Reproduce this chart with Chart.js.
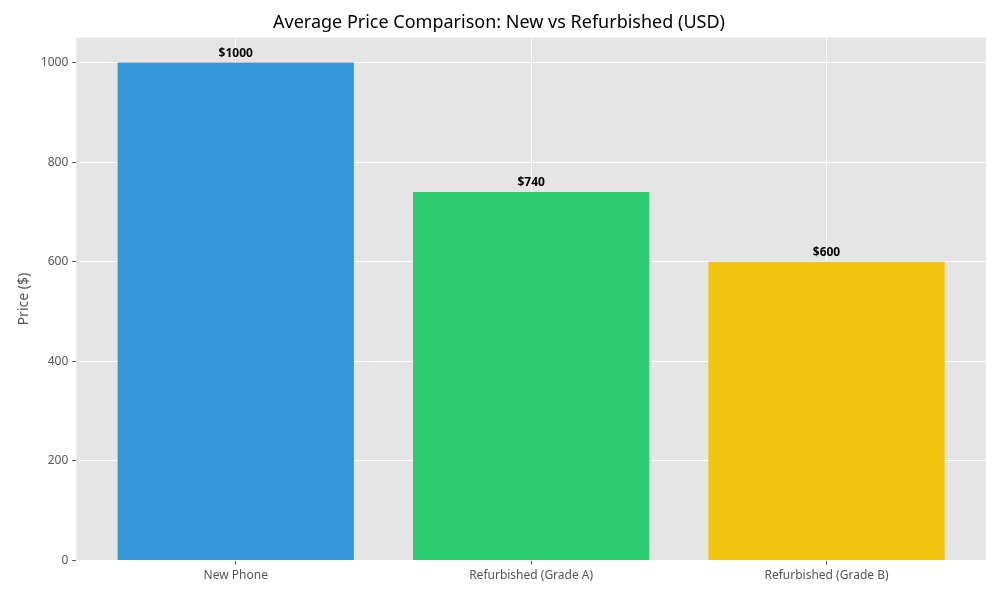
<!DOCTYPE html>
<html>
<head>
<meta charset="utf-8">
<script src="https://cdn.jsdelivr.net/npm/chart.js@4/dist/chart.umd.min.js"></script>
<style>
body { margin: 0; background: #fff; }
#wrap { width: 1000px; height: 600px; }
</style>
</head>
<body>
<div id="wrap"><canvas id="c"></canvas></div>
<script>
const categories = ["New Phone", "Refurbished (Grade A)", "Refurbished (Grade B)"];
const prices = [1000, 740, 600];
const barColors = ["#3498db", "#2ecc71", "#f1c40f"];
const yTicks = [0, 200, 400, 600, 800, 1000];

const plotBg = {
	id: "plotBg",
	beforeDraw(chart) {
		const { ctx, chartArea: a } = chart;
		ctx.save();
		ctx.fillStyle = "#e5e5e5";
		ctx.fillRect(a.left, a.top, a.right - a.left, a.bottom - a.top);
		ctx.restore();
	},
};

const valueLabels = {
	id: "valueLabels",
	afterDatasetsDraw(chart) {
		const { ctx } = chart;
		ctx.save();
		ctx.font = "bold 12px 'Noto Sans'";
		ctx.fillStyle = "#000";
		ctx.textAlign = "center";
		ctx.textBaseline = "bottom";
		chart.getDatasetMeta(0).data.forEach((bar, i) => {
			ctx.fillText("$" + prices[i], bar.x, bar.y - 3);
		});
		ctx.restore();
	},
};

Chart.defaults.font.family = "'Noto Sans'";

new Chart(document.getElementById("c"), {
	type: "bar",
	data: {
		datasets: [{
			data: prices.map((p, i) => ({ x: i, y: p })),
			backgroundColor: barColors,
			barPercentage: 0.8,
			categoryPercentage: 1,
		}],
	},
	options: {
		responsive: true,
		maintainAspectRatio: false,
		animation: false,
		layout: { padding: { left: 12, right: 14, top: 0, bottom: 13 } },
		plugins: {
			legend: { display: false },
			tooltip: { enabled: false },
			title: {
				display: true,
				text: "Average Price Comparison: New vs Refurbished (USD)",
				color: "#000",
				font: { size: 18, weight: "normal" },
				padding: { top: 12, bottom: 4 },
			},
		},
		scales: {
			x: {
				type: "linear",
				min: -0.54,
				max: 2.54,
				offset: false,
				afterBuildTicks(axis) { axis.ticks = categories.map((c, i) => ({ value: i })); },
				grid: { offset: false, color: "#fff", lineWidth: 1, tickColor: "#555", tickLength: 4 },
				border: { display: false },
				ticks: { color: "#555", font: { size: 12 }, padding: 4, callback: (v) => categories[v] },
			},
			y: {
				min: 0,
				max: 1050,
				afterBuildTicks(axis) { axis.ticks = yTicks.map((v) => ({ value: v })); },
				grid: { color: "#fff", lineWidth: 1, tickColor: "#555", tickLength: 4 },
				border: { display: false },
				ticks: { color: "#555", font: { size: 12 }, padding: 4, callback: (v) => String(v) },
				title: { display: true, text: "Price ($)", color: "#555", font: { size: 14 } },
			},
		},
	},
	plugins: [plotBg, valueLabels],
});
</script>
</body>
</html>
